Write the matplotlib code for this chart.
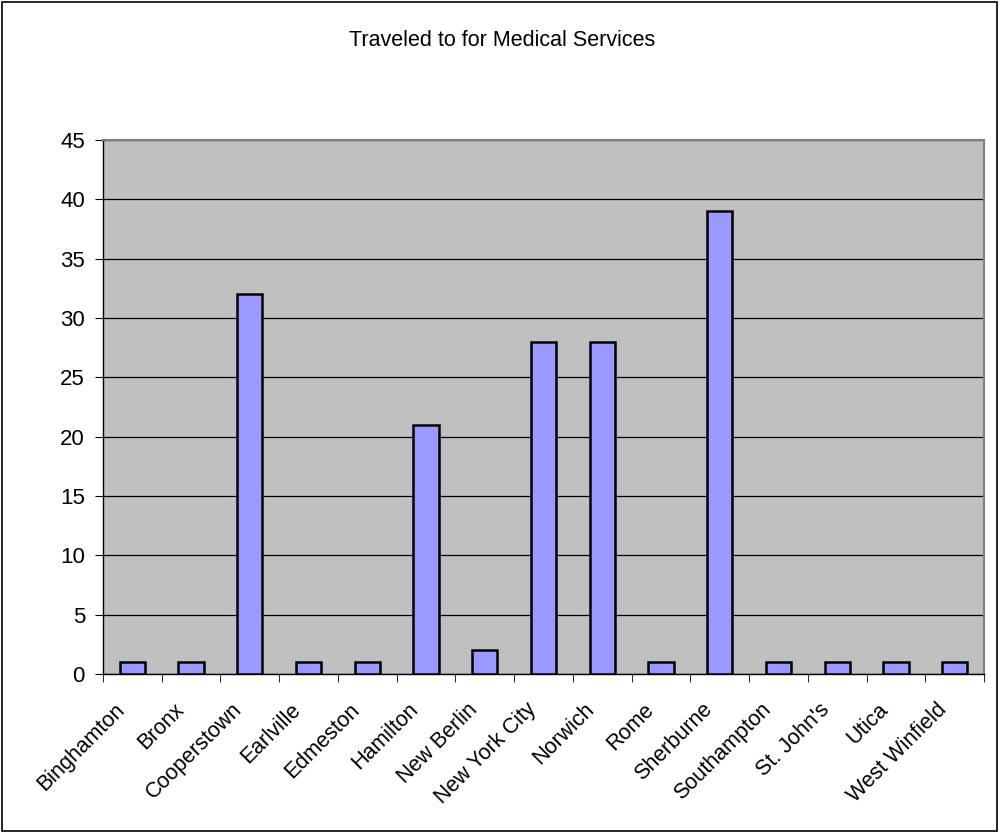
import matplotlib
matplotlib.use("Agg")
import matplotlib.pyplot as plt
from matplotlib.patches import Rectangle
from matplotlib.transforms import offset_copy
import numpy as np

plt.rcParams['font.family'] = ['Liberation Sans', 'DejaVu Sans']

categories = ["Binghamton", "Bronx", "Cooperstown", "Earlville", "Edmeston", "Hamilton",
              "New Berlin", "New York City", "Norwich", "Rome", "Sherburne", "Southampton",
              "St. John's", "Utica", "West Winfield"]
values = [1, 1, 32, 1, 1, 21, 2, 28, 28, 1, 39, 1, 1, 1, 1]
yticks = [0, 5, 10, 15, 20, 25, 30, 35, 40, 45]
title = "Traveled to for Medical Services"

fig = plt.figure(figsize=(10.05, 8.35), dpi=100)
fig.patches.append(Rectangle((2/1005, 1 - 831/835), 995/1005, 829/835, transform=fig.transFigure,
                             fill=False, edgecolor='black', linewidth=1.2))
ax = fig.add_axes([103/1005, 1 - 674/835, 881/1005, 534/835])
ax.set_facecolor('#C0C0C0')
x = np.arange(len(categories))
ax.bar(x, values, width=0.43, color='#9999FF', edgecolor='black', linewidth=1.8, zorder=3)
ax.set_xlim(-0.5, len(categories) - 0.5)
ax.set_ylim(0, 45)
ax.set_yticks(yticks)
ax.set_yticklabels([str(t) for t in yticks], fontsize=16)
ax.yaxis.grid(True, color='black', linewidth=0.9, zorder=1)
ax.set_axisbelow(True)
ax.set_xticks(x)
ax.set_xticklabels([])
ax.tick_params(axis='x', length=0)
ax.set_xticks(np.arange(-0.5, len(categories)), minor=True)
ax.tick_params(axis='x', which='minor', length=6, direction='out', color='black')
ax.tick_params(axis='y', length=6, direction='out', pad=7)
lab_tr = offset_copy(ax.get_xaxis_transform(), fig=fig, x=-18, y=-25, units='dots')
for xi, name in zip(x, categories):
    ax.text(xi, 0, name, transform=lab_tr, rotation=45, ha='right', va='top',
            rotation_mode='anchor', fontsize=15.5, clip_on=False)
for s in ['left', 'bottom']:
    ax.spines[s].set_color('black')
    ax.spines[s].set_linewidth(1.0)
for s in ['top', 'right']:
    ax.spines[s].set_color('#808080')
    ax.spines[s].set_linewidth(1.5)
fig.text(0.5, 1 - 40/835, title, ha='center', va='center', fontsize=15.5)
fig.savefig('out.png', dpi=100)
